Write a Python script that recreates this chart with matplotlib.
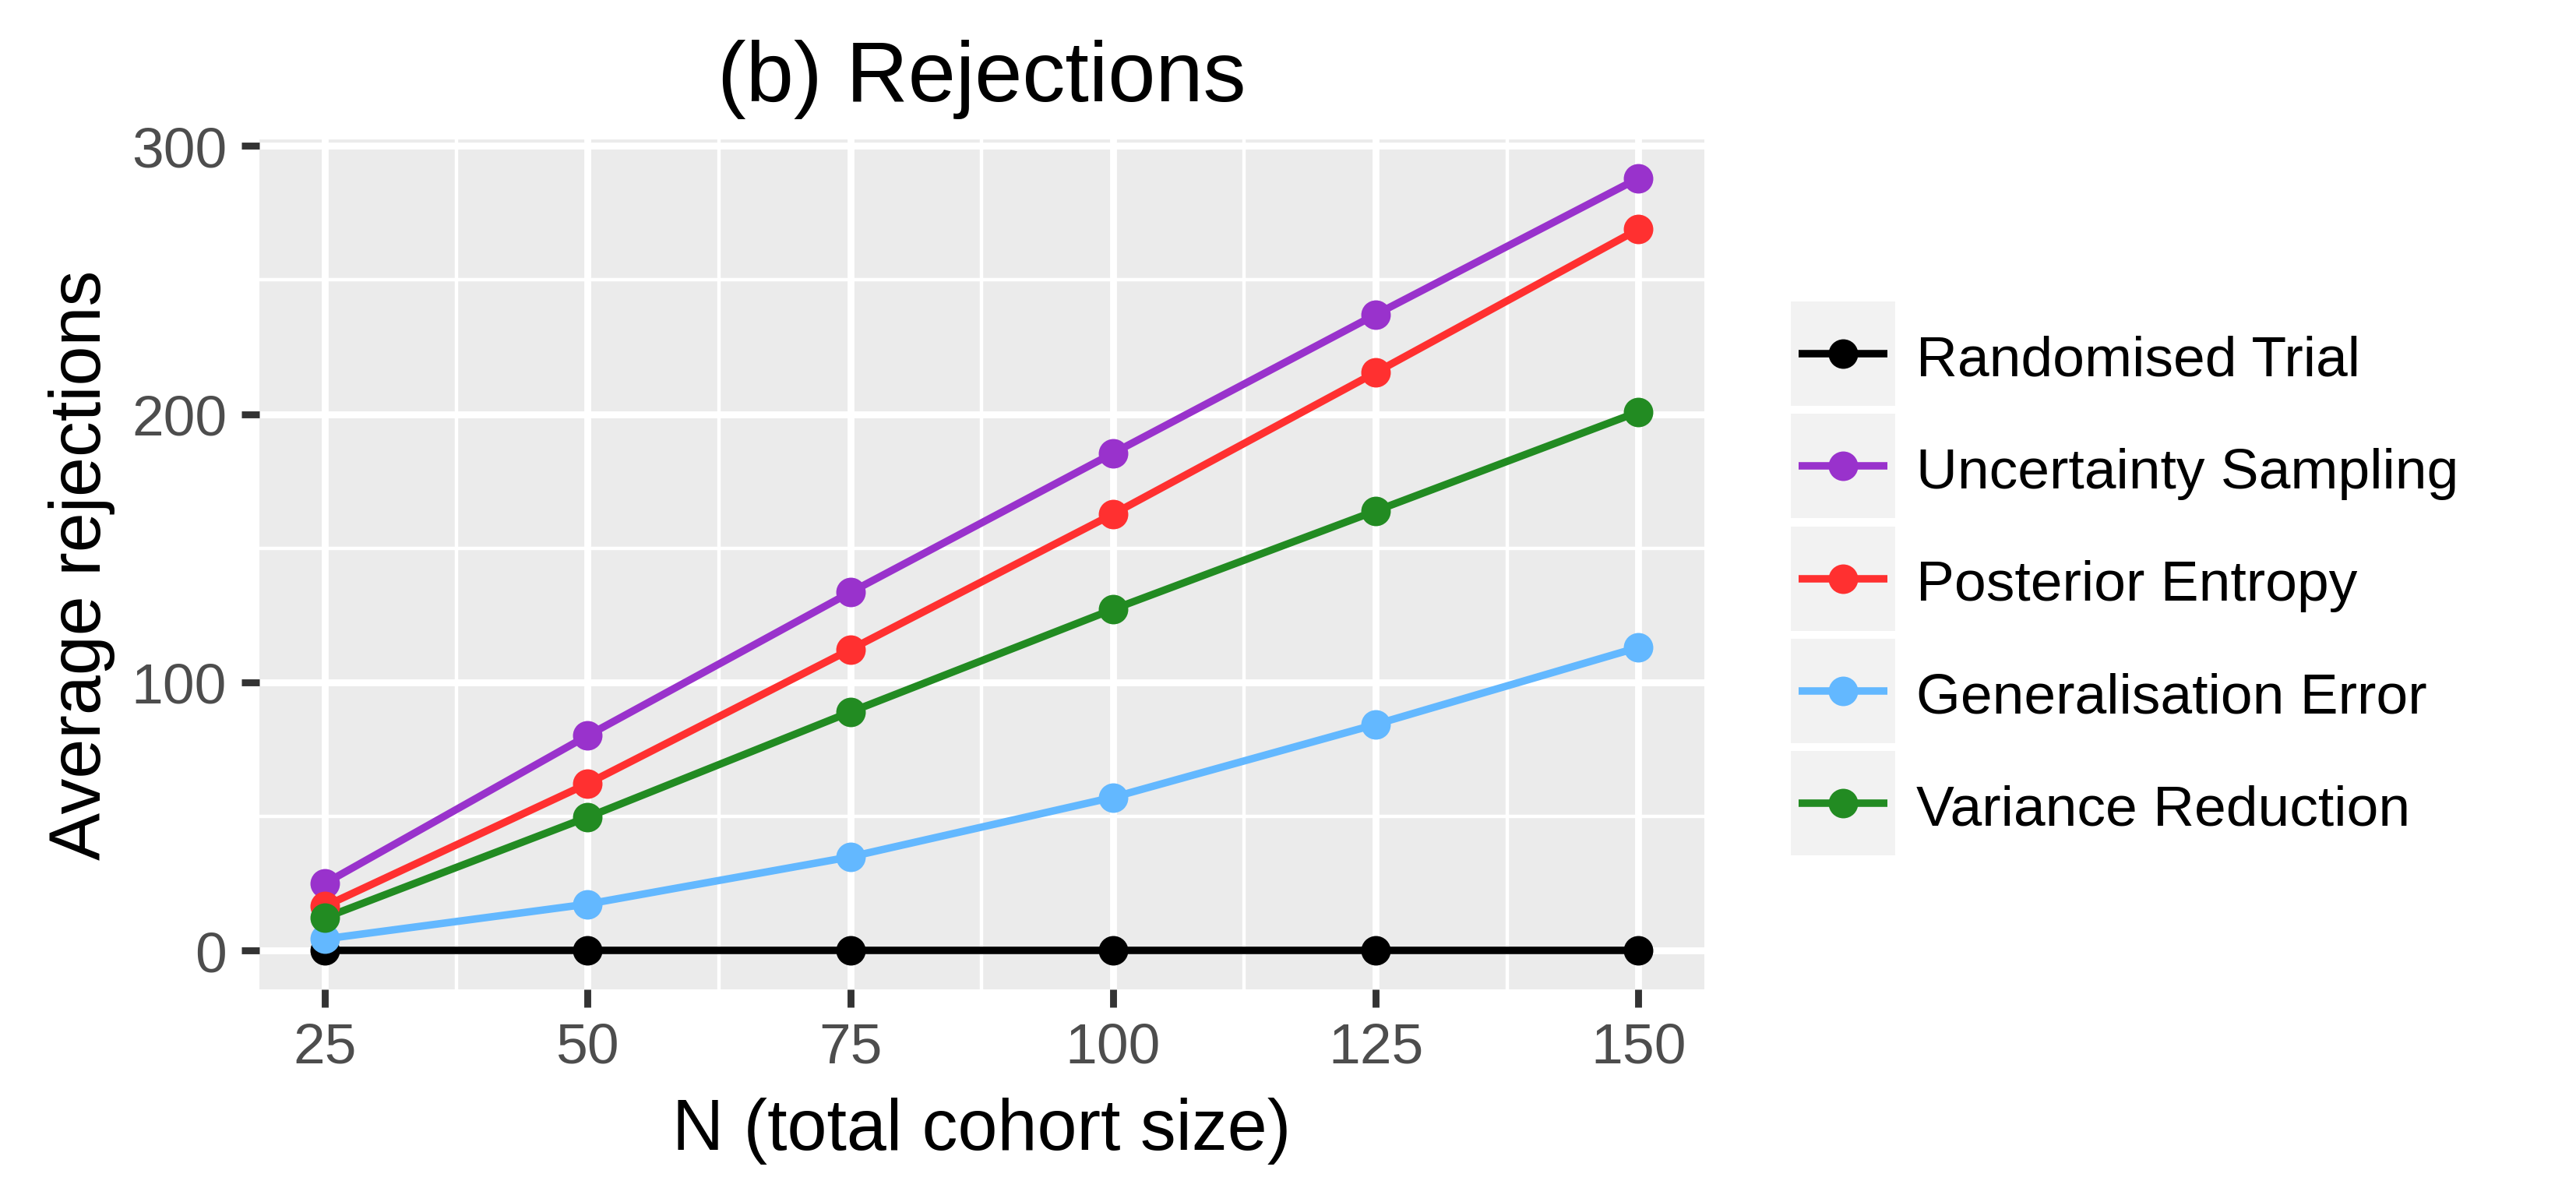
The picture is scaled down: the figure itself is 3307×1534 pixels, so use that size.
import matplotlib
matplotlib.use('Agg')
import matplotlib.pyplot as plt
from matplotlib.lines import Line2D
from matplotlib.patches import Rectangle

plt.rcParams['font.family'] = ['Liberation Sans', 'DejaVu Sans']

# data
n_cohort = [25, 50, 75, 100, 125, 150]
methods = ['Randomised Trial', 'Uncertainty Sampling', 'Posterior Entropy',
           'Generalisation Error', 'Variance Reduction']
randomised = [0, 0, 0, 0, 0, 0]
uncertainty = [25.0, 80.1, 133.5, 185.4, 237.1, 287.9]
entropy = [16.5, 62.2, 112.2, 162.7, 215.5, 268.9]
generalisation = [4.3, 17.3, 34.9, 57.1, 84.3, 113.0]
variance = [12.2, 49.7, 88.9, 127.2, 163.9, 200.8]
series = [randomised, uncertainty, entropy, generalisation, variance]
colors = ['#000000', '#9932CC', '#FF3030', '#63B8FF', '#228B22']
x_ticks = [25, 50, 75, 100, 125, 150]
y_ticks = [0, 100, 200, 300]

W, H = 3307, 1535
fig = plt.figure(figsize=(W / 300, H / 300), dpi=300)
ax = fig.add_axes([332.7 / W, 1 - 1270.7 / H, (2187.7 - 332.7) / W, (1270.7 - 180.3) / H])

lw = 2.13
ax.set_facecolor('#EBEBEB')
for s in ax.spines.values():
    s.set_visible(False)

# ggplot-like 5% expansion
xmin, xmax = min(n_cohort), max(n_cohort)
ymin = min(min(v) for v in series)
ymax = max(max(v) for v in series)
ax.set_xlim(xmin - 0.05 * (xmax - xmin), xmax + 0.05 * (xmax - xmin))
ax.set_ylim(ymin - 0.05 * (ymax - ymin), ymax + 0.05 * (ymax - ymin))

ax.set_xticks(x_ticks)
ax.set_yticks(y_ticks)
ax.set_xticks([37.5, 62.5, 87.5, 112.5, 137.5], minor=True)
ax.set_yticks([50, 150, 250], minor=True)
ax.grid(which='major', color='white', linewidth=lw)
ax.grid(which='minor', color='white', linewidth=lw / 2)
ax.set_axisbelow(True)
ax.tick_params(which='major', direction='out', length=5.5, width=lw, color='#333333',
               labelsize=17.6, labelcolor='#4D4D4D', pad=4.5)
ax.tick_params(which='minor', length=0)

line_w = 2.3
for vals, c in zip(series, colors):
    ax.plot(n_cohort, vals, color=c, linewidth=line_w, solid_capstyle='butt', zorder=3)
for vals, c in zip(series, colors):
    ax.plot(n_cohort, vals, linestyle='none', marker='o', markersize=9.1,
            markeredgewidth=0, color=c, zorder=4)

ax.set_title('(b) Rejections', fontsize=26.4, pad=12)
ax.set_xlabel('N (total cohort size)', fontsize=22, labelpad=7)
ax.set_ylabel('Average rejections', fontsize=22, labelpad=5)

# legend with grey key boxes, ggplot style
key_x0, key_w, key_h, key_pitch, key_top = 2298.5, 134.5, 134, 144.1, 388.3
for i, (name, c) in enumerate(zip(methods, colors)):
    top = key_top + i * key_pitch
    fig.add_artist(Rectangle((key_x0 / W, 1 - (top + key_h) / H), key_w / W, key_h / H,
                             transform=fig.transFigure, facecolor='#F2F2F2',
                             edgecolor='none'))
    yc = 1 - (top + key_h / 2) / H
    fig.add_artist(Line2D([(key_x0 + 10) / W, (key_x0 + key_w - 10) / W], [yc, yc],
                          transform=fig.transFigure, color=c, linewidth=line_w,
                          solid_capstyle='butt'))
    fig.add_artist(Line2D([(key_x0 + key_w / 2) / W], [yc], transform=fig.transFigure,
                          color=c, marker='o', markersize=9.1, markeredgewidth=0))
    fig.text(2460 / W, yc - 27.5 / H, name, fontsize=17.6, va='baseline', ha='left')

fig.savefig('out.png', dpi=300, facecolor='white')
